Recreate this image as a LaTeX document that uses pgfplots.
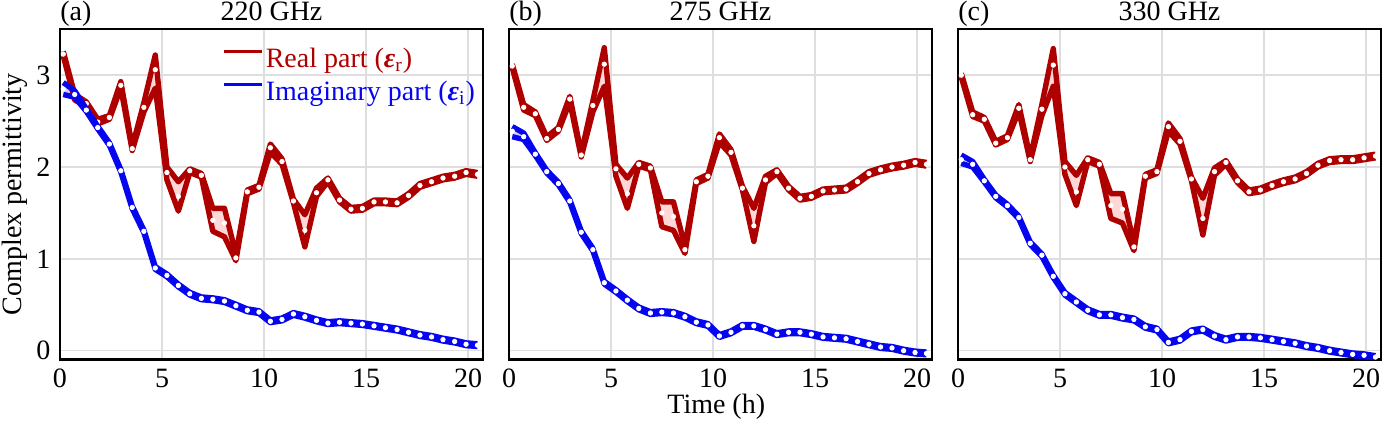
\documentclass[border=0pt]{standalone}
\usepackage{fontspec}
\setmainfont{Liberation Serif}
\usepackage{pgfplots}
\pgfplotsset{compat=1.18}
\usepackage{pgfplotstable}
\usepgfplotslibrary{fillbetween}

\definecolor{cR}{RGB}{175,0,0}
\definecolor{cB}{RGB}{5,5,240}
\definecolor{cRf}{RGB}{255,215,215}
\definecolor{cBf}{RGB}{205,205,255}
\definecolor{cG}{RGB}{222,222,222}

\pgfplotstableread{
t rm rlo rhi im ilo ihi
0.16 3.23 3.21 3.26 2.85 2.79 2.92
0.72 2.76 2.73 2.79 2.79 2.76 2.83
1.29 2.69 2.66 2.71 2.62 2.605 2.635
1.85 2.49 2.47 2.52 2.43 2.415 2.445
2.42 2.54 2.52 2.56 2.25 2.235 2.265
2.98 2.89 2.86 2.93 1.96 1.945 1.975
3.54 2.20 2.18 2.22 1.56 1.545 1.575
4.11 2.65 2.60 2.70 1.30 1.285 1.315
4.67 3.06 2.86 3.22 0.90 0.885 0.915
5.24 1.94 1.86 2.00 0.82 0.805 0.835
5.80 1.68 1.52 1.84 0.71 0.695 0.725
6.36 1.96 1.94 1.98 0.62 0.605 0.635
6.93 1.91 1.89 1.93 0.57 0.555 0.585
7.49 1.42 1.30 1.55 0.56 0.545 0.575
8.06 1.39 1.24 1.55 0.54 0.525 0.555
8.62 1.01 0.98 1.05 0.49 0.475 0.505
9.18 1.73 1.71 1.75 0.44 0.425 0.455
9.75 1.78 1.76 1.80 0.42 0.405 0.435
10.31 2.21 2.16 2.25 0.32 0.305 0.335
10.88 2.06 2.03 2.09 0.34 0.325 0.355
11.44 1.63 1.61 1.65 0.40 0.385 0.415
12.00 1.31 1.13 1.48 0.37 0.355 0.385
12.57 1.72 1.68 1.77 0.33 0.315 0.345
13.13 1.86 1.84 1.88 0.30 0.285 0.315
13.70 1.64 1.62 1.66 0.31 0.295 0.325
14.26 1.54 1.52 1.56 0.30 0.285 0.315
14.82 1.55 1.53 1.57 0.29 0.275 0.305
15.39 1.62 1.60 1.64 0.27 0.255 0.285
15.95 1.62 1.60 1.64 0.25 0.235 0.265
16.52 1.61 1.59 1.63 0.23 0.215 0.245
17.08 1.69 1.67 1.71 0.20 0.185 0.215
17.64 1.80 1.78 1.82 0.17 0.155 0.185
18.21 1.84 1.82 1.86 0.15 0.135 0.165
18.77 1.88 1.86 1.90 0.12 0.105 0.135
19.34 1.90 1.88 1.92 0.10 0.085 0.115
19.90 1.94 1.92 1.96 0.07 0.055 0.085
20.46 1.92 1.90 1.94 0.06 0.045 0.075
}\tA

\pgfplotstableread{
t rm rlo rhi im ilo ihi
0.16 3.10 3.08 3.12 2.39 2.33 2.44
0.72 2.65 2.62 2.68 2.33 2.30 2.37
1.29 2.58 2.56 2.60 2.14 2.125 2.155
1.85 2.31 2.29 2.33 1.95 1.935 1.965
2.42 2.41 2.39 2.43 1.82 1.805 1.835
2.98 2.74 2.71 2.77 1.63 1.615 1.645
3.54 2.13 2.11 2.15 1.29 1.275 1.305
4.11 2.67 2.60 2.72 1.10 1.085 1.115
4.67 3.12 2.88 3.30 0.74 0.725 0.755
5.24 1.98 1.90 2.03 0.65 0.635 0.665
5.80 1.71 1.55 1.88 0.55 0.535 0.565
6.36 2.03 2.01 2.05 0.46 0.445 0.475
6.93 1.99 1.97 2.01 0.41 0.395 0.425
7.49 1.50 1.35 1.62 0.42 0.405 0.435
8.06 1.46 1.31 1.62 0.41 0.395 0.425
8.62 1.10 1.06 1.14 0.37 0.355 0.385
9.18 1.84 1.82 1.86 0.31 0.295 0.325
9.75 1.90 1.88 1.92 0.28 0.265 0.295
10.31 2.32 2.27 2.36 0.16 0.145 0.175
10.88 2.16 2.13 2.19 0.20 0.185 0.215
11.44 1.77 1.75 1.79 0.27 0.255 0.285
12.00 1.36 1.19 1.55 0.27 0.255 0.285
12.57 1.86 1.83 1.90 0.23 0.215 0.245
13.13 1.95 1.93 1.97 0.18 0.165 0.195
13.70 1.77 1.75 1.79 0.20 0.185 0.215
14.26 1.66 1.64 1.68 0.20 0.185 0.215
14.82 1.68 1.66 1.70 0.18 0.165 0.195
15.39 1.74 1.72 1.76 0.15 0.135 0.165
15.95 1.75 1.73 1.77 0.14 0.125 0.155
16.52 1.76 1.74 1.78 0.13 0.115 0.145
17.08 1.84 1.82 1.86 0.10 0.085 0.115
17.64 1.93 1.91 1.95 0.07 0.055 0.085
18.21 1.97 1.95 1.99 0.04 0.025 0.055
18.77 2.00 1.98 2.02 0.03 0.015 0.045
19.34 2.02 2.00 2.04 0.00 -0.015 0.015
19.90 2.05 2.03 2.07 -0.02 -0.035 -0.005
20.46 2.03 2.01 2.05 -0.03 -0.045 -0.015
}\tB

\pgfplotstableread{
t rm rlo rhi im ilo ihi
0.16 3.00 2.98 3.02 2.08 2.04 2.13
0.72 2.57 2.55 2.60 2.03 2.00 2.06
1.29 2.52 2.50 2.54 1.85 1.835 1.865
1.85 2.26 2.24 2.28 1.68 1.665 1.695
2.42 2.32 2.30 2.34 1.58 1.565 1.595
2.98 2.64 2.61 2.68 1.45 1.435 1.465
3.54 2.08 2.06 2.10 1.17 1.155 1.185
4.11 2.63 2.56 2.68 1.04 1.025 1.055
4.67 3.11 2.88 3.29 0.81 0.795 0.825
5.24 2.00 1.92 2.06 0.62 0.605 0.635
5.80 1.73 1.58 1.91 0.53 0.515 0.545
6.36 2.08 2.06 2.10 0.44 0.425 0.455
6.93 2.03 2.01 2.05 0.39 0.375 0.405
7.49 1.58 1.44 1.71 0.39 0.375 0.405
8.06 1.54 1.39 1.71 0.36 0.345 0.375
8.62 1.13 1.09 1.17 0.34 0.325 0.355
9.18 1.90 1.88 1.92 0.26 0.245 0.275
9.75 1.95 1.93 1.97 0.23 0.215 0.245
10.31 2.44 2.39 2.48 0.09 0.075 0.105
10.88 2.28 2.25 2.31 0.12 0.105 0.135
11.44 1.87 1.85 1.89 0.21 0.195 0.225
12.00 1.44 1.26 1.66 0.23 0.215 0.245
12.57 1.95 1.91 1.99 0.16 0.145 0.175
13.13 2.05 2.03 2.07 0.12 0.105 0.135
13.70 1.85 1.83 1.87 0.15 0.135 0.165
14.26 1.73 1.71 1.75 0.15 0.135 0.165
14.82 1.75 1.73 1.77 0.14 0.125 0.155
15.39 1.80 1.78 1.82 0.12 0.105 0.135
15.95 1.84 1.82 1.86 0.10 0.085 0.115
16.52 1.87 1.85 1.89 0.08 0.065 0.095
17.08 1.93 1.91 1.95 0.05 0.035 0.065
17.64 2.02 2.00 2.04 0.03 0.015 0.045
18.21 2.07 2.05 2.09 0.00 -0.015 0.015
18.77 2.08 2.06 2.10 -0.02 -0.035 -0.005
19.34 2.08 2.06 2.10 -0.04 -0.055 -0.025
19.90 2.10 2.08 2.12 -0.05 -0.065 -0.035
20.46 2.12 2.10 2.14 -0.07 -0.085 -0.055
}\tC

\pgfplotsset{
  panel/.style={
    scale only axis, width=211.5pt, height=165pt,
    xmin=0, xmax=20.73, ymin=-0.094, ymax=3.50,
    xtick={0,5,10,15,20}, ytick={0,1,2,3},
    grid=major, major grid style={draw=cG, line width=0.8pt},
    axis line style={line width=1.2pt, black},
    major tick length=0pt, tick style={draw=none},
    /pgf/number format/assume math mode=true,
    clip mode=individual,
  },
  bnd/.style={line width=2.7pt, line join=round},
  dots/.style={only marks, mark=*, mark size=1.1pt, mark options={draw=white, fill=white}},
}

\newcommand\band[7]{%
  \addplot[draw=none, name path=#2h, forget plot] table[x=t,y=#5]{#1};
  \addplot[draw=none, name path=#2l, forget plot] table[x=t,y=#4]{#1};
  \addplot[fill=#7, draw=none, forget plot] fill between[of=#2h and #2l];
  \addplot[bnd, #6, forget plot] table[x=t,y=#5]{#1};
  \addplot[bnd, #6, forget plot] table[x=t,y=#4]{#1};
  \addplot[dots, forget plot] table[x=t,y=#3]{#1};
}
\newcommand\eps[1]{\textbf{\textit{ε}}\textsubscript{#1}}

\begin{document}
\fontsize{14}{16.8}\selectfont
\begin{tikzpicture}
\begin{axis}[panel, at={(0pt,0pt)}, anchor=south west,
  ylabel={Complex permittivity},
  ylabel style={at={(axis description cs:-0.092,0.5)}, anchor=base},
  legend cell align=left,
  legend style={draw=none, fill=none, at={(axis description cs:0.383,0.95)}, anchor=north west,
    inner sep=0pt, row sep=2.5pt, nodes={inner sep=1pt}},
  legend image code/.code={\draw (0pt,0.3em) -- (19pt,0.3em);},
]
\band{\tA}{aR}{rm}{rlo}{rhi}{cR}{cRf}
\band{\tA}{aB}{im}{ilo}{ihi}{cB}{cBf}
\addlegendimage{cR, line width=1.7pt}
\addlegendentry{\textcolor{cR}{Real part (\eps{r})}}
\addlegendimage{cB, line width=1.7pt}
\addlegendentry{\textcolor{cB}{Imaginary part (\eps{i})}}
\node[anchor=base west, inner sep=0pt, yshift=4.5pt] at (rel axis cs:0,1) {(a)};
\node[anchor=base, inner sep=0pt, yshift=4.5pt] at (rel axis cs:0.5,1) {220 GHz};
\end{axis}

\begin{axis}[panel, at={(224.5pt,0pt)}, anchor=south west,
  yticklabel=\empty,
  xlabel={Time (h)},
  xlabel style={at={(axis description cs:0.49,0)}, anchor=base, yshift=-26.9pt},
]
\band{\tB}{bR}{rm}{rlo}{rhi}{cR}{cRf}
\band{\tB}{bB}{im}{ilo}{ihi}{cB}{cBf}
\node[anchor=base west, inner sep=0pt, yshift=4.5pt] at (rel axis cs:0,1) {(b)};
\node[anchor=base, inner sep=0pt, yshift=4.5pt] at (rel axis cs:0.5,1) {275 GHz};
\end{axis}

\begin{axis}[panel, at={(449pt,0pt)}, anchor=south west,
  yticklabel=\empty,
]
\band{\tC}{cRR}{rm}{rlo}{rhi}{cR}{cRf}
\band{\tC}{cBB}{im}{ilo}{ihi}{cB}{cBf}
\node[anchor=base west, inner sep=0pt, yshift=4.5pt] at (rel axis cs:0,1) {(c)};
\node[anchor=base, inner sep=0pt, yshift=4.5pt] at (rel axis cs:0.5,1) {330 GHz};
\end{axis}

\pgfresetboundingbox
\path[use as bounding box] (-30pt,-32.35pt) rectangle (661pt,179.65pt);
\end{tikzpicture}
\end{document}
